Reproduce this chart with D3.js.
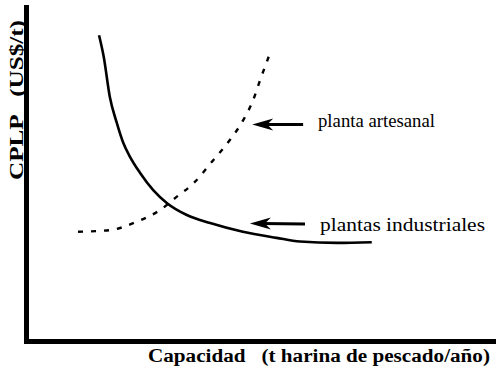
<!DOCTYPE html>
<html>
<head>
<meta charset="utf-8">
<script src="https://cdn.jsdelivr.net/npm/d3@7"></script>
<style>
  body { margin: 0; background: #fff; }
</style>
</head>
<body>
<div id="chart"></div>
<script>
// capacity (x) and cost (y) in arbitrary units
var industrialX = [15, 16, 17.3, 18.8, 20.2, 21.6, 23.8, 26.6, 29.5, 33.8, 38.8, 45.8, 53, 58, 66, 73.4];
var industrialY = [91, 84.6, 72.7, 64.9, 58.9, 54.9, 50, 44.9, 41.1, 37.5, 35.1, 32.5, 30.7, 29.6, 29.2, 29.4];

var artisanalX = [10.5, 17.3, 23.1, 28.1, 31.6, 35.2, 39.5, 43, 45.9, 48, 49.5, 51.6];
var artisanalY = [32.5, 33, 35.5, 39, 42.9, 46.9, 53.9, 59.8, 65.8, 71.7, 77.7, 85.6];

var labels = ["planta artesanal", "plantas industriales"];
var xTitle = "Capacidad   (t harina de pescado/año)";
var yTitle = "CPLP   (US$/t)";

var serif = "'Liberation Serif', 'Times New Roman', serif";

var svgWidth = 496;
var svgHeight = 370;

var margin = { top: 5, right: 0, bottom: 29, left: 29 };
var chartWidth = svgWidth - margin.left - margin.right;
var chartHeight = svgHeight - margin.top - margin.bottom;

var svg = d3.select("#chart")
    .append("svg")
    .attr("width", svgWidth)
    .attr("height", svgHeight);

var x = d3.scaleLinear().domain([0, 100]).range([margin.left, margin.left + chartWidth]);
var y = d3.scaleLinear().domain([0, 100]).range([margin.top + chartHeight, margin.top]);

var line = d3.line()
    .x(d => x(d[0]))
    .y(d => y(d[1]))
    .curve(d3.curveMonotoneX);

var industrial = industrialX.map((v, i) => [v, industrialY[i]]);
var artisanal = artisanalX.map((v, i) => [v, artisanalY[i]]);

svg.append("path")
    .datum(artisanal)
    .attr("d", line)
    .attr("fill", "none")
    .attr("stroke", "#000")
    .attr("stroke-width", 2.4)
    .attr("stroke-dasharray", "5,8");

svg.append("path")
    .datum(industrial)
    .attr("d", line)
    .attr("fill", "none")
    .attr("stroke", "#000")
    .attr("stroke-width", 2.6);

// axes: heavy bars with no ticks
svg.append("line")
    .attr("x1", x(0) - 2.5).attr("x2", x(0) - 2.5)
    .attr("y1", y(100)).attr("y2", y(0) + 3)
    .attr("stroke", "#000").attr("stroke-width", 5);
svg.append("line")
    .attr("x1", x(0) - 5).attr("x2", x(100))
    .attr("y1", y(0) + 0.5).attr("y2", y(0) + 0.5)
    .attr("stroke", "#000").attr("stroke-width", 5);

// arrows pointing at the curves
var arrows = [
    { tip: [47.8, 64.4], tail: [58.7, 64.4], label: labels[0], lx: 318, ly: 127, len: 117 },
    { tip: [47.3, 35.0], tail: [59.1, 34.8], label: labels[1], lx: 320, ly: 231, len: 165 }
];

arrows.forEach(function(a) {
    var tx = x(a.tip[0]), ty = y(a.tip[1]);
    svg.append("line")
        .attr("x1", tx + 12).attr("y1", ty)
        .attr("x2", x(a.tail[0])).attr("y2", y(a.tail[1]))
        .attr("stroke", "#000").attr("stroke-width", 3);
    svg.append("path")
        .attr("d", `M${tx},${ty} L${tx + 21},${ty - 6} L${tx + 15},${ty} L${tx + 21},${ty + 6} Z`)
        .attr("fill", "#000");
    svg.append("text")
        .attr("x", a.lx)
        .attr("y", a.ly)
        .attr("font-family", serif)
        .attr("font-size", "18px")
        .attr("textLength", a.len)
        .attr("lengthAdjust", "spacingAndGlyphs")
        .text(a.label);
});

svg.append("text")
    .attr("transform", `translate(23, 180) rotate(-90)`)
    .attr("font-family", serif)
    .attr("font-size", "18px")
    .attr("font-weight", "bold")
    .attr("textLength", 160)
    .attr("lengthAdjust", "spacingAndGlyphs")
    .style("white-space", "pre")
    .text(yTitle);

svg.append("text")
    .attr("x", 148)
    .attr("y", 362)
    .attr("font-family", serif)
    .attr("font-size", "18px")
    .attr("font-weight", "bold")
    .attr("textLength", 342)
    .attr("lengthAdjust", "spacingAndGlyphs")
    .style("white-space", "pre")
    .text(xTitle);
</script>
</body>
</html>
